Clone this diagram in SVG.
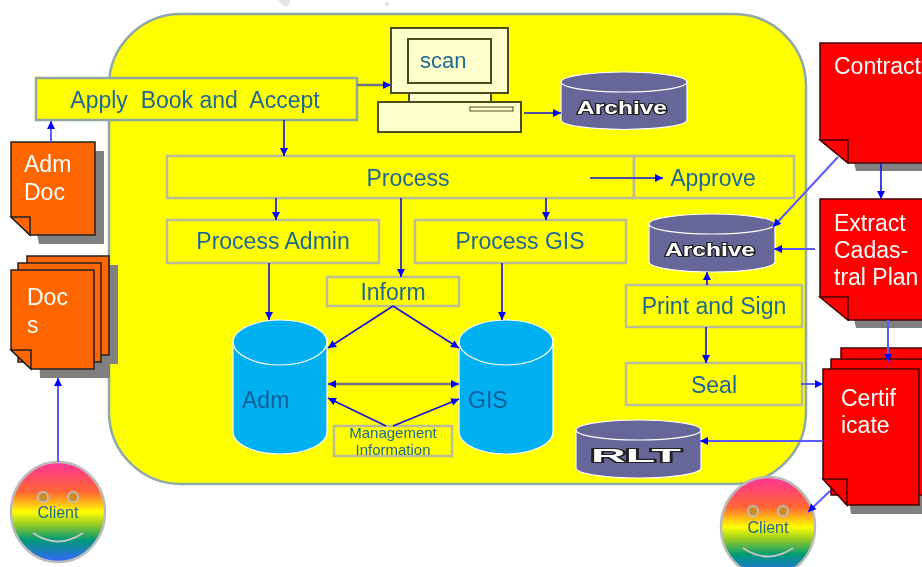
<svg xmlns="http://www.w3.org/2000/svg" width="922" height="567" viewBox="0 0 922 567">
<style>
text{font-family:"Liberation Sans",Arial,sans-serif}
.box{fill:#ffff00;stroke:#bcbc98;stroke-width:2.5}
.lbl{fill:#1f6894;font-size:23px;text-anchor:middle}
.wht{fill:#fff;font-size:23px}
.org{fill:#ff6600;stroke:#222;stroke-width:1.5}
.red{fill:#ff0000;stroke:#400;stroke-width:1.5}
.shd{fill:#808080}
.pc{fill:#ffffcc;stroke:#4d4d1a;stroke-width:2}
.cyl{fill:#00b0f0;stroke:#fff;stroke-width:1.2}
.arc{fill:#666699;stroke:#fff;stroke-width:1.2}
.arct{fill:#fff;stroke:#222;stroke-width:2.2;paint-order:stroke;font-weight:bold;text-anchor:middle}
.c{fill:none;stroke:#1414d8;stroke-width:1.6;marker-end:url(#a)}
.cs{fill:none;stroke:#5a5aff;stroke-width:2;marker-end:url(#a)}
.cg{fill:none;stroke:#707088;stroke-width:2.5;marker-end:url(#a)}
.eye{fill:#d08a20;stroke:#bbb;stroke-width:2}
.sm{fill:none;stroke:#c4c4c4;stroke-width:2}
</style>
<defs>
<marker id="a" markerUnits="userSpaceOnUse" markerWidth="9" markerHeight="9" refX="8" refY="4.5" orient="auto-start-reverse"><path d="M0 0.5L8 4.5L0 8.5Z" fill="#0000ff"/></marker>
<linearGradient id="rb" x1="0" y1="0" x2="0" y2="1"><stop offset="0" stop-color="#ff3399"/><stop offset=".3" stop-color="#ff6633"/><stop offset=".5" stop-color="#ffff00"/><stop offset=".62" stop-color="#99cc22"/><stop offset=".78" stop-color="#009977"/><stop offset="1" stop-color="#3366ff"/></linearGradient>
<filter id="soft" x="0" y="0" width="100%" height="100%"><feGaussianBlur stdDeviation="0.35"/></filter>
</defs>
<g filter="url(#soft)">
<rect width="922" height="567" fill="#fff"/>
<g id="watermark" fill="#e4e4e4"><path d="M278 0L291 0L288 6L283 6Z"/><rect x="385" y="2" width="4" height="4"/></g>
<rect id="background" x="109" y="14" width="697" height="470" rx="72" ry="72" fill="#ffff00" stroke="#8fa8a8" stroke-width="2.5"/>

<g id="apply"><rect class="box" style="stroke:#93a89a" x="36" y="78" width="321" height="42"/><text class="lbl" x="195" y="108" xml:space="preserve">Apply  Book and  Accept</text></g>
<g id="computer">
<rect class="pc" x="391" y="28" width="117" height="65"/>
<rect class="pc" x="408" y="39" width="83" height="44"/>
<rect class="pc" x="409" y="93" width="82" height="9"/>
<rect class="pc" x="378" y="102" width="143" height="30"/>
<rect x="470" y="107" width="43" height="4" fill="#ffffcc" stroke="#4d4d1a" stroke-width="1"/>
<text x="420" y="68" fill="#1f6894" font-size="22">scan</text>
</g>
<g id="archive1"><path class="arc" d="M561 82V120A63 9.5 0 0 0 687 120V82A63 10 0 0 0 561 82Z"/><path d="M561 82A63 10 0 0 0 687 82" fill="none" stroke="#fff" stroke-width="1.2"/><text class="arct" x="622" y="114" font-size="18" textLength="90" lengthAdjust="spacingAndGlyphs">Archive</text></g>
<g id="process"><rect class="box" x="167" y="156" width="467" height="42"/><text class="lbl" x="408" y="186">Process</text></g>
<g id="approve"><rect class="box" x="634" y="156" width="160" height="42"/><text class="lbl" x="713" y="186">Approve</text></g>
<g id="process-admin"><rect class="box" x="167" y="220" width="212" height="43"/><text class="lbl" x="273" y="249">Process Admin</text></g>
<g id="process-gis"><rect class="box" x="415" y="220" width="211" height="43"/><text class="lbl" x="520" y="249">Process GIS</text></g>
<g id="inform"><rect class="box" x="327" y="277" width="132" height="29"/><text class="lbl" x="393" y="300">Inform</text></g>
<g id="archive2"><path class="arc" d="M649 224V262A63 10 0 0 0 775 262V224A63 10 0 0 0 649 224Z"/><path d="M649 224A63 10 0 0 0 775 224" fill="none" stroke="#fff" stroke-width="1.2"/><text class="arct" x="710" y="256" font-size="18" textLength="90" lengthAdjust="spacingAndGlyphs">Archive</text></g>
<g id="print-sign"><rect class="box" x="626" y="285" width="176" height="42"/><text class="lbl" x="714" y="314">Print and Sign</text></g>
<g id="seal"><rect class="box" x="626" y="363" width="176" height="42"/><text class="lbl" x="714" y="393">Seal</text></g>
<g id="adm"><path class="cyl" d="M233 342V432C233 444 254 454 280 454S327 444 327 432V342C327 330 306 320 280 320S233 330 233 342Z"/><path d="M233 342C233 354 254 365 280 365S327 354 327 342" fill="none" stroke="#fff" stroke-width="1.2"/><text x="242" y="408" fill="#0f5f9c" font-size="23">Adm</text></g>
<g id="gis"><path class="cyl" d="M459 342V432C459 444 480 454 506 454S553 444 553 432V342C553 330 532 320 506 320S459 330 459 342Z"/><path d="M459 342C459 354 480 365 506 365S553 354 553 342" fill="none" stroke="#fff" stroke-width="1.2"/><text x="468" y="408" fill="#0f5f9c" font-size="23">GIS</text></g>
<g id="management"><rect class="box" x="334" y="426" width="118" height="30"/><text x="393" y="438" fill="#1f6894" font-size="15" text-anchor="middle">Management</text><text x="393" y="455" fill="#1f6894" font-size="15" text-anchor="middle">Information</text></g>
<g id="rlt"><path class="arc" d="M576 430V468A62.500 10 0 0 0 701 468V430A62.500 10 0 0 0 576 430Z"/><path d="M576 430A62.500 10 0 0 0 701 430" fill="none" stroke="#fff" stroke-width="1.2"/><text class="arct" x="636" y="462" font-size="18" textLength="90" lengthAdjust="spacingAndGlyphs">RLT</text></g>

<g id="adm-doc"><path class="shd" d="M20 151H104V244H39Z"/><path class="org" d="M11 142H95V235H30L11 217Z"/><path class="org" d="M11 217H30V235Z" stroke-width="1.2"/><text class="wht" x="24" y="172">Adm</text><text class="wht" x="24" y="200">Doc</text></g>
<g id="docs"><path class="shd" d="M36 265H118V364H110V378H40Z"/><rect class="org" x="27" y="256" width="82" height="99"/><rect class="org" x="18" y="263" width="83" height="99"/><path class="org" d="M11 270H94V369H31L11 350Z"/><path class="org" d="M11 350H31V369Z" stroke-width="1.2"/><text class="wht" x="27" y="305">Doc</text><text class="wht" x="27" y="333">s</text></g>
<g id="contract"><path class="shd" d="M828 52H930V171H856Z"/><path class="red" d="M820 43H930V163H848L820 140Z"/><path class="red" d="M820 140H848V163Z" stroke-width="1.2"/><text class="wht" x="834" y="74">Contract</text></g>
<g id="extract"><path class="shd" d="M828 207H930V328H856Z"/><path class="red" d="M820 199H930V320H848L820 297Z"/><path class="red" d="M820 297H848V320Z" stroke-width="1.2"/><text class="wht" x="834" y="231">Extract</text><text class="wht" x="834" y="258">Cadas-</text><text class="wht" x="834" y="285">tral Plan</text></g>
<g id="certificate"><path class="shd" d="M831 378H930V514H851Z"/><rect class="red" x="841" y="348" width="90" height="136"/><rect class="red" x="831" y="359" width="100" height="136"/><path class="red" d="M823 369H919V505H847L823 479Z"/><path class="red" d="M823 479H847V505Z" stroke-width="1.2"/><text class="wht" x="841" y="406">Certif</text><text class="wht" x="841" y="433">icate</text></g>
<g id="client1"><ellipse cx="58" cy="512" rx="47" ry="50" fill="url(#rb)" stroke="#bbb" stroke-width="2.500"/><circle class="eye" cx="43" cy="497" r="5"/><circle class="eye" cx="73" cy="497" r="5"/><path class="sm" d="M33 533Q58 550 83 533"/><text x="58" y="518" fill="#1f6894" font-size="16" text-anchor="middle">Client</text></g>
<g id="client2"><ellipse cx="768" cy="527" rx="47" ry="50" fill="url(#rb)" stroke="#bbb" stroke-width="2.500"/><circle class="eye" cx="753" cy="511" r="5"/><circle class="eye" cx="783" cy="511" r="5"/><path class="sm" d="M743 548Q768 565 793 548"/><text x="768" y="533" fill="#1f6894" font-size="16" text-anchor="middle">Client</text></g>

<g id="connectors">
<path class="cg" d="M357 85H391"/>
<path class="c" d="M284 120V156"/>
<path class="cs" d="M51 142V121"/>
<path class="c" d="M524 113H561"/>
<path class="c" d="M590 178H663"/>
<path class="c" d="M276 198V220"/>
<path class="c" d="M546 198V220"/>
<path class="c" d="M401 198V277"/>
<path class="c" d="M269 263V320"/>
<path class="c" d="M502 263V320"/>
<path class="c" d="M393 306L328 348"/>
<path class="c" d="M393 306L459 348"/>
<path class="cg" d="M328 384H459" marker-start="url(#a)"/>
<path class="c" d="M386 426L328 398"/>
<path class="c" d="M393 426L459 399"/>
<path class="cs" d="M838 157L773 227"/>
<path class="c" d="M881 163V199"/>
<path class="cs" d="M815 249H774"/>
<path class="c" d="M707 285V272"/>
<path class="c" d="M706 327V363"/>
<path class="cs" d="M801 384H823"/>
<path class="cs" d="M888 320V362"/>
<path class="cs" d="M823 441H700"/>
<path class="cs" d="M830 491L808 512"/>
<path class="cs" d="M58 462V378"/>
</g>
</g>
</svg>
